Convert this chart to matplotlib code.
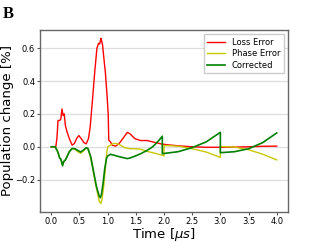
import matplotlib
matplotlib.use('Agg')
import matplotlib.pyplot as plt

# time axis (us) and population change (%)
t_loss = [0.0, 0.05, 0.08, 0.1, 0.12, 0.15, 0.17, 0.19, 0.21, 0.23, 0.25, 0.28, 0.32,
          0.37, 0.41, 0.45, 0.49, 0.53, 0.58, 0.62, 0.66, 0.69, 0.73, 0.77, 0.81,
          0.84, 0.86, 0.88, 0.89, 0.91, 0.93, 0.96, 0.99, 1.01, 1.02, 1.05, 1.08,
          1.14, 1.2, 1.27, 1.35, 1.4, 1.48, 1.58, 1.7, 1.82, 1.94, 2.06, 2.25, 2.5,
          2.75, 3.0, 3.25, 3.5, 3.75, 4.0]
loss = [0.0, 0.0, 0.0, 0.05, 0.16, 0.16, 0.17, 0.23, 0.19, 0.2, 0.13, 0.09, 0.05,
        0.01, 0.02, 0.05, 0.068, 0.05, 0.025, 0.018, 0.05, 0.12, 0.28, 0.45, 0.6,
        0.63, 0.625, 0.66, 0.65, 0.62, 0.55, 0.45, 0.31, 0.2, 0.04, 0.03, 0.01,
        0.004, 0.018, 0.05, 0.088, 0.078, 0.05, 0.038, 0.038, 0.028, 0.018, 0.012,
        0.006, 0.0, -0.003, -0.003, -0.002, 0.0, 0.003, 0.004]

t_phase = [0.0, 0.07, 0.1, 0.12, 0.15, 0.17, 0.2, 0.22, 0.25, 0.28, 0.32, 0.37, 0.42,
           0.47, 0.52, 0.57, 0.62, 0.65, 0.7, 0.75, 0.8, 0.85, 0.88, 0.9, 0.93, 0.96,
           0.98, 1.0, 1.05, 1.1, 1.15, 1.2, 1.3, 1.4, 1.5, 1.6, 1.7, 1.8, 1.9, 2.0,
           2.0, 2.25, 2.5, 2.75, 3.0, 3.0, 3.25, 3.5, 3.75, 4.0]
phase = [0.0, 0.0, -0.02, -0.035, -0.07, -0.075, -0.115, -0.09, -0.08, -0.06, -0.03,
         -0.012, -0.015, -0.03, -0.04, -0.025, -0.008, -0.012, -0.07, -0.16, -0.25,
         -0.33, -0.345, -0.32, -0.24, -0.13, -0.05, 0.0, 0.01, 0.02, 0.02, 0.015,
         -0.005, -0.012, -0.012, -0.016, -0.028, -0.036, -0.045, -0.055,
         0.008, 0.004, -0.012, -0.032, -0.065, 0.002, -0.002, -0.018, -0.045, -0.08]

t_corr = [0.0, 0.07, 0.1, 0.12, 0.15, 0.17, 0.2, 0.22, 0.25, 0.28, 0.32, 0.37, 0.42,
          0.47, 0.52, 0.57, 0.62, 0.65, 0.7, 0.75, 0.8, 0.85, 0.87, 0.89, 0.92, 0.95,
          0.98, 1.0, 1.05, 1.1, 1.2, 1.3, 1.35, 1.4, 1.52, 1.6, 1.7, 1.8, 1.9, 1.97,
          1.97, 2.25, 2.5, 2.75, 3.0, 3.0, 3.25, 3.5, 3.75, 4.0]
corr = [0.0, 0.0, -0.02, -0.035, -0.07, -0.075, -0.115, -0.09, -0.08, -0.06, -0.03,
        -0.01, -0.012, -0.022, -0.032, -0.02, -0.006, -0.01, -0.06, -0.15, -0.24,
        -0.3, -0.31, -0.29, -0.22, -0.13, -0.07, -0.056, -0.046, -0.05, -0.06,
        -0.068, -0.072, -0.068, -0.052, -0.04, -0.022, 0.0, 0.035, 0.064,
        -0.042, -0.03, -0.005, 0.03, 0.088, -0.036, -0.03, -0.012, 0.025, 0.084]

fig, ax = plt.subplots(figsize=(3.2, 2.42), dpi=100)
fig.subplots_adjust(left=0.125, right=0.9, top=0.876, bottom=0.125)

ax.plot(t_loss, loss, color='r', lw=1.0, label='Loss Error')
ax.plot(t_phase, phase, color='#c8c800', lw=1.0, label='Phase Error')
ax.plot(t_corr, corr, color='g', lw=1.2, label='Corrected')

ax.set_xticks([0.0, 0.5, 1.0, 1.5, 2.0, 2.5, 3.0, 3.5, 4.0])
ax.set_yticks([-0.2, 0.0, 0.2, 0.4, 0.6])
ax.tick_params(labelsize=6, length=2, width=0.8, color='#555555', pad=1.5)
ax.yaxis.grid(True, color='#dddddd', lw=0.9)
ax.set_axisbelow(True)
for s in ax.spines.values():
    s.set_color('#666666')
    s.set_linewidth(1.0)

ax.set_xlabel(r'Time [$\mu s$]', fontsize=9.5, labelpad=0)
ax.set_ylabel('Population change [%]', fontsize=9.5, labelpad=1)
ax.legend(loc='upper right', fontsize=6, frameon=True, handlelength=2.2,
          borderpad=0.4, labelspacing=0.3, framealpha=1, edgecolor='#cccccc',
          fancybox=False)

fig.text(0.01, 0.925, 'B', fontsize=12, fontweight='bold', family='Liberation Serif')

fig.savefig('out.png', dpi=100)
